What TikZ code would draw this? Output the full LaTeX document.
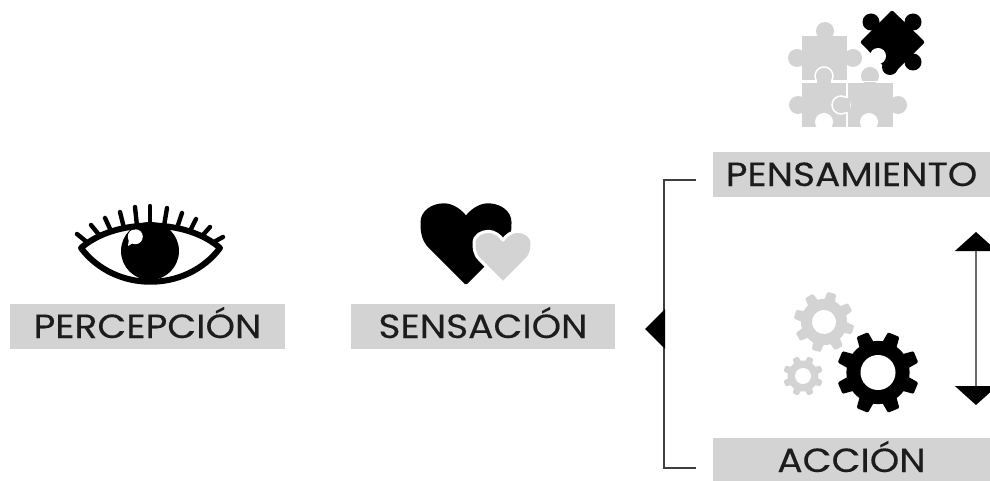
\documentclass[tikz,border=0pt]{standalone}
\usepackage{fontspec}
\setmainfont[FakeStretch=1.12,FakeBold=0.25]{Poppins}
\usetikzlibrary{arrows.meta}
\definecolor{lightg}{HTML}{D3D3D3}
\definecolor{ink}{HTML}{1C1C1C}
\tikzset{
 labelbox/.style={fill=lightg,text=ink,minimum width=#1,minimum height=45pt,inner sep=0pt,text height=23pt,text depth=0pt,font=\fontsize{33.5}{34}\selectfont},
 bracketline/.style={draw=ink!85,line width=2pt},
 axisline/.style={draw=ink!65,line width=1.6pt,{Triangle[width=42pt,length=19pt,color=black]}-{Triangle[width=42pt,length=19pt,color=black]}},
 lash/.style={line width=4.4pt,line cap=round,black}
}
\newcommand\mygear[6]{% x y R hole rot colour
 \begin{scope}[shift={(#1,#2)},rotate=#5]
 \foreach \a in {0,45,...,315}{
  \fill[#6,rotate=\a,rounded corners=1.2pt] (-.2*#3,-.6*#3)--(-.15*#3,-1*#3)--(.15*#3,-1*#3)--(.2*#3,-.6*#3)--cycle;
 }
 \fill[#6] (0,0) circle ({.77*#3});
 \fill[white] (0,0) circle (#4);
 \end{scope}}
\newcommand\myheart[5]{% x y w colour outline
 \begin{scope}[shift={(#1,#2)},x=#3pt,y=-#3pt]
 \path[fill=#4,draw=#5,line width=3pt,line join=round] (0,1.48) -- (-.82,.66) .. controls (-1,.48) and (-1,.25) .. (-1,.1) .. controls (-1,-.15) and (-.75,-.3) .. (-.5,-.3) .. controls (-.3,-.3) and (-.1,-.15) .. (0,0) .. controls (.1,-.15) and (.3,-.3) .. (.5,-.3) .. controls (.75,-.3) and (1,-.15) .. (1,.1) .. controls (1,.25) and (1,.48) .. (.82,.66) -- cycle;
 \end{scope}}
\begin{document}
\begin{tikzpicture}[x=1pt,y=-1pt]
\useasboundingbox (0,0) rectangle (990,481);
% labels
\node[labelbox=275pt] (perc) at (147.5,326.5) {PERCEPCIÓN};
\node[labelbox=264pt] (sens) at (483,326.5) {SENSACIÓN};
\node[labelbox=277pt] (pens) at (851.5,174.5) {PENSAMIENTO};
\node[labelbox=277pt] (acc) at (851.5,460.5) {ACCIÓN};
% bracket
\coordinate (bt) at (696,180);
\coordinate (bb) at (696,468);
\coordinate (bm) at (664,329);
\draw[bracketline] (bt) -- (664,180) -- (664,468) -- (bb);
\fill[black] (bm)++(1,-20) -- (645,329) -- (665,349) -- cycle;
% axis
\coordinate (at) at (976,232);
\coordinate (ab) at (976,405);
\draw[axisline] (at) -- (ab);
% eye
\fill[black] (150,251) circle (29);
\fill[white] (135.3,236.7) circle (7.5);
\fill[white] (130,231) -- (128,246) -- (138,240) -- cycle;
\draw[black,line width=6pt,line join=round] (81,248) .. controls (115,218) and (186,218) .. (220,248) .. controls (186,293) and (115,293) .. cycle;
\foreach \tx/\ty/\bx/\by in {150/206/150/226,135/207/137/226,167/208/164/226,120/212/124/228,182/213/177/228,105/218/111/231,196/219/190/231,91/225/100/236,210/227/202/236,77/234/88/243,223/237/212/243}
 \draw[lash] (\tx,\ty) -- (\bx,\by);
% hearts
\myheart{466}{218}{44}{black}{black}
\myheart{503}{240}{29}{lightg}{white}
% puzzle
\fill[lightg] (802,36) rectangle (847,80);
\fill[lightg] (825,31) circle (9) (797,58) circle (9) (853,58) circle (9);
\fill[lightg] (821,30) rectangle (829,40) (797,54) rectangle (806,62) (843,54) rectangle (853,62);
\fill[lightg] (802,83) rectangle (846,127);
\fill[lightg] (848,83) rectangle (893,127);
\fill[lightg] (870,76) circle (9) (798,105) circle (9) (898,105) circle (9);
\fill[lightg] (866,76) rectangle (874,85) (798,101) rectangle (806,109) (890,101) rectangle (898,109);
\fill[white] (824,122) circle (9) (869,122) circle (9);
\fill[white] (817,122) rectangle (831,128) (862,122) rectangle (876,128);
\draw[white,line width=1.5pt,fill=lightg] (824,76) circle (9);
\fill[lightg] (817,76) rectangle (831,86);
\draw[white,line width=1.5pt,fill=lightg] (841,105) circle (9);
\fill[lightg] (841,98) rectangle (850,112);
\draw[white,line width=1.5pt] (800,81.5) -- (815,81.5) (833,81.5) -- (895,81.5) (847,82) -- (847,96) (847,114) -- (847,128);
% black puzzle piece
\fill[black,rounded corners=2pt] (892,10) -- (925,42) -- (892,75) -- (860,42) -- cycle;
\fill[black] (871,22) circle (8.5) (913,22) circle (8.5) (913,62) circle (8.5);
\fill[white] (878,56) circle (8);
\fill[white] (866,54) -- (876,64) -- (868,66) -- cycle;
\fill[black] (890,67) circle (8);
% gears
\mygear{824}{322}{30}{12}{-15}{lightg}
\mygear{803}{376}{20}{8}{22.5}{lightg}
\mygear{878}{372.5}{41}{17.5}{22.5}{black}
\end{tikzpicture}
\end{document}
